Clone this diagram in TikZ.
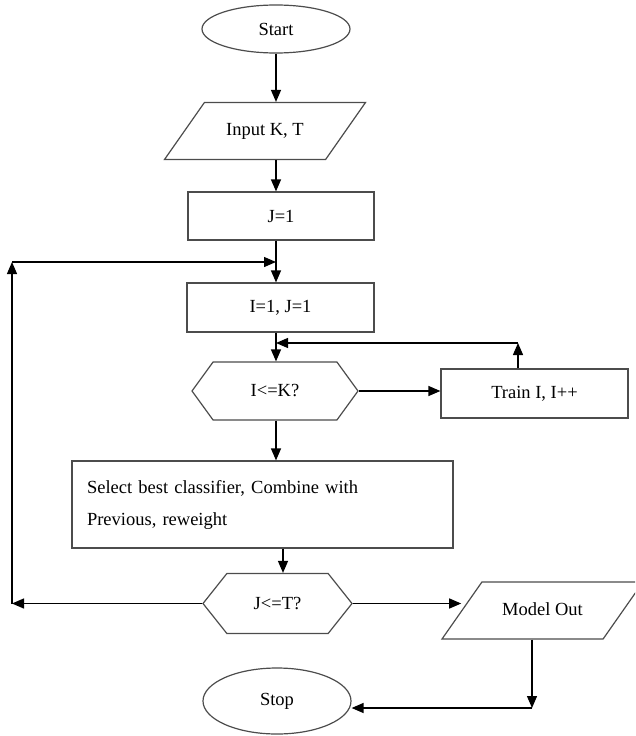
\documentclass[tikz,border=0pt]{standalone}
\usepackage{fontspec}
\setmainfont{Liberation Serif}
\usetikzlibrary{arrows.meta, shapes.geometric, shapes.symbols}
\tikzstyle{box} = [
    draw=black!70,
    line width=1.2pt,
    rectangle,
    font=\fontsize{18.5}{22}\selectfont,
    inner sep=0pt
]
\tikzstyle{block} = [box, minimum width=187pt, minimum height=49pt]
\tikzstyle{io} = [
    box,
    trapezium,
    trapezium left angle=55,
    trapezium right angle=125,
    trapezium stretches body,
    text height=13pt,
    text depth=4pt,
    inner ysep=20pt,
    minimum width=201pt,
    minimum height=57pt
]
\tikzstyle{decision} = [box, signal, signal to=west and east, signal pointer angle=108, minimum height=58pt]
\tikzstyle{terminal} = [box, ellipse, minimum width=148pt]
\tikzstyle{path} = [-{Triangle[length=12pt, width=10pt]}, line width=1.3pt]

\begin{document}
\begin{tikzpicture}[x=1pt, y=-1pt]
    \clip (0, 0) rectangle (635, 736);

    % Nodes.
    \node (start) [terminal, minimum height=48pt] at (276, 29) {Start};
    \node (input) [io] at (265, 131) {Input K, T};
    \node (j one) [block, minimum width=186pt, minimum height=48pt] at (281, 216) {J=1};
    \node (i one) [block] at (280.5, 307.5) {I=1, J=1};

    \node (i test) [decision, minimum width=166pt] at (275, 391) {I<=K?};
    \node (train) [block] at (534.5, 393.5) {Train I, I++};

    \node (select) [block, minimum width=381pt, minimum height=87pt, text width=351pt, align=left,
        font=\fontsize{18.5}{32}\selectfont] at (262.5, 504.5)
        {Select best classifier, Combine with\\Previous, reweight};

    \node (j test) [decision, minimum width=149pt, minimum height=60pt, signal pointer angle=103] at (277.5, 603.5) {J<=T?};
    \node (model) [io] at (542.5, 610.5) {Model Out};
    \node (stop) [terminal, minimum height=66pt] at (277, 701) {Stop};

    \coordinate (loop) at (12, 262);
    \coordinate (train back) at (518, 343);
    \coordinate (out) at (532, 708);

    % Paths.
    \draw [path] (start.south) -- (start.south |- input.north);
    \draw [path] (start |- input.south) -- (start |- j one.north);
    \draw [path] (start |- j one.south) -- (start |- i one.north);
    \draw [path] (start |- i one.south) -- (start |- i test.north);

    \draw [path] (i test.east) -- (i test.east -| train.west);
    \draw [path] (train.north -| train back) -- (train back);
    \draw [path] (train back) -- (train back -| start);

    \draw [path] (start |- i test.south) -- (start |- select.north);
    \draw [path] ([xshift=5.5pt]j test.north |- select.south) -- ([xshift=5.5pt]j test.north);

    \draw [path] (j test.west) -- (j test.west -| loop);
    \draw [path] (j test.west -| loop) -- (loop);
    \draw [path] (loop) -- (loop -| start);

    \draw [path] (j test.east) -- (j test.east -| model.west);
    \draw [path] (model.south -| out) -- (out);
    \draw [path] (out) -- (out -| stop.east);
\end{tikzpicture}
\end{document}
